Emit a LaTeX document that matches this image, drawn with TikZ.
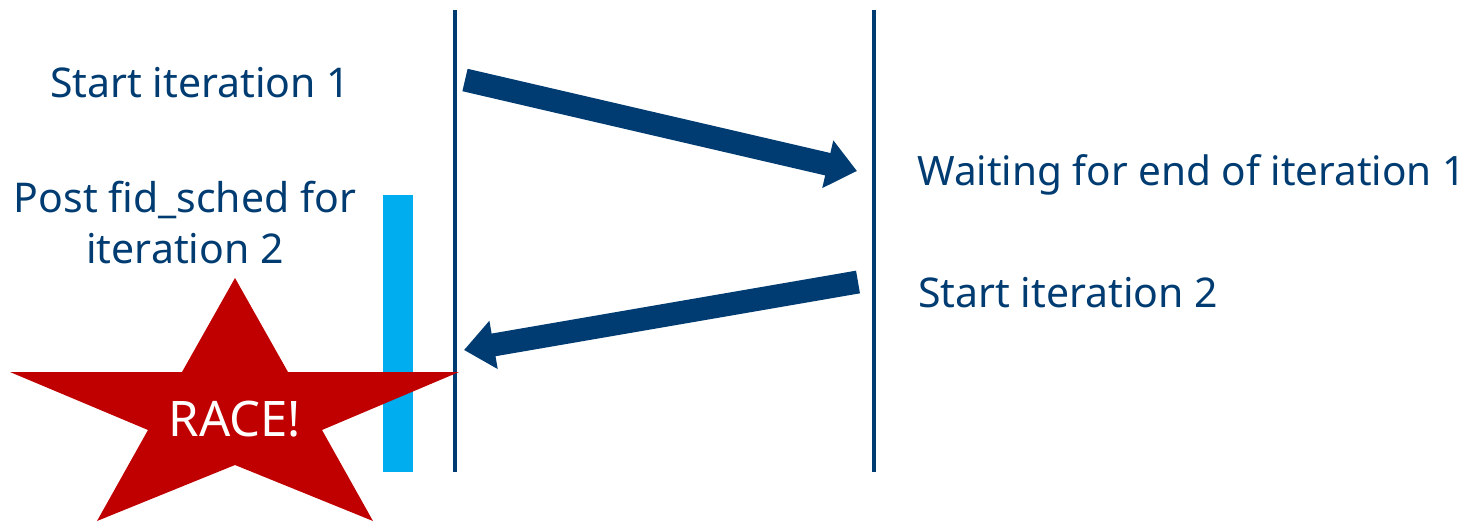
\documentclass[tikz,border=0pt]{standalone}
\usepackage{fontspec}
\setmainfont{Noto Sans}
\usetikzlibrary{arrows.meta}
\definecolor{navy}{RGB}{0,60,113}
\definecolor{cyanbar}{RGB}{0,174,239}
\definecolor{racered}{RGB}{192,0,0}
\begin{document}
\begin{tikzpicture}[x=1pt,y=-1pt,
  lbl/.style={text=navy,font=\fontsize{41}{51}\selectfont,inner sep=0pt},
  lane/.style={draw=navy,line width=4pt},
  bigarrow/.style={draw=navy,line width=23pt,-{Triangle[length=30pt,width=47pt]}}]
\useasboundingbox (0,0) rectangle (1470,522);
% lanes
\coordinate (l1t) at (455,10); \coordinate (l1b) at (455,472);
\coordinate (l2t) at (874,10); \coordinate (l2b) at (874,472);
\draw[lane] (l1t) -- (l1b);
\draw[lane] (l2t) -- (l2b);
% cyan bar
\fill[cyanbar] (383,195) rectangle (413,472);
% star
\fill[racered] (235,278) -- (288,372) -- (459,372) -- (322,430) -- (373,521)
  -- (235,465) -- (97,521) -- (148,430) -- (10,372) -- (182,372) -- cycle;
\node[lbl,text=white,anchor=base,font=\fontsize{49}{55}\selectfont] (race) at (235,436) {RACE!};
% arrows
\coordinate (a1s) at (465,80); \coordinate (a1e) at (857,171);
\coordinate (a2s) at (858,282); \coordinate (a2e) at (464,350);
\draw[bigarrow] (a1s) -- (a1e);
\draw[bigarrow] (a2s) -- (a2e);
% labels
\node[lbl,anchor=base] (s1) at (200,97) {Start iteration 1};
\node[lbl,anchor=base,align=center] (post) at (185,263) {Post fid\_sched for\\iteration 2};
\node[lbl,anchor=base west,font=\fontsize{40.5}{51}\selectfont] (wait) at (917,185) {Waiting for end of iteration 1};
\node[lbl,anchor=base west] (s2) at (918,307) {Start iteration 2};
\end{tikzpicture}
\end{document}
